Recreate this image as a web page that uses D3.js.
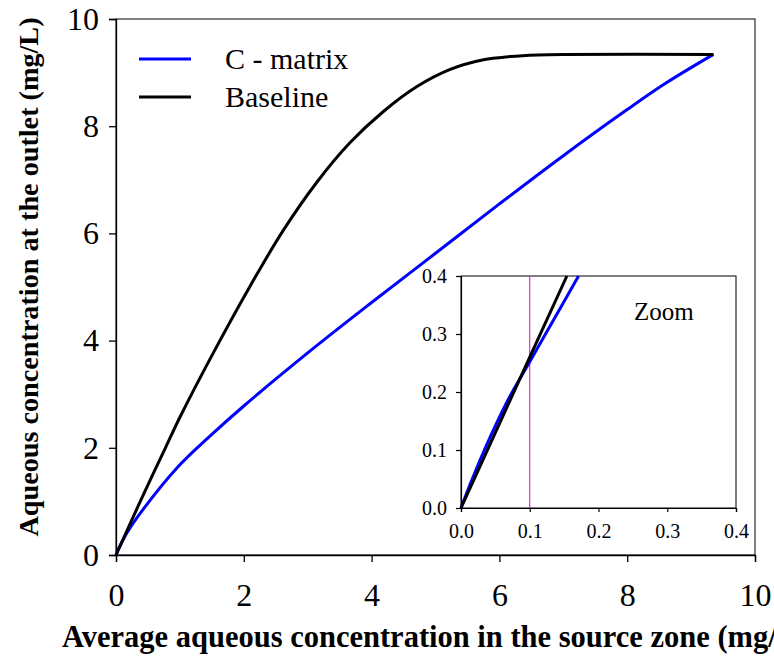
<!DOCTYPE html>
<html>
<head>
<meta charset="utf-8">
<script src="https://cdn.jsdelivr.net/npm/d3@7"></script>
<style>
  html, body { margin: 0; padding: 0; background: #fff; }
  svg { display: block; }
</style>
</head>
<body>
<svg id="chart" width="774" height="657"></svg>
<script>
// ---- data ----
const seriesNames = ["C - matrix", "Baseline"];
const seriesColors = ["#0000ff", "#000000"];

const cMatrixX = [0, 0.05, 0.17, 0.43, 0.95, 1.5, 2.0, 3.0, 4.0, 5.0, 6.0, 7.0, 8.0, 8.6, 9.35];
const cMatrixY = [0, 0.14, 0.41, 0.86, 1.62, 2.25, 2.78, 3.77, 4.71, 5.63, 6.55, 7.45, 8.31, 8.8, 9.34];

const baselineX = [0, 0.25, 0.5, 0.77, 1.0, 1.5, 2.1, 2.62, 3.14, 3.66, 4.18, 4.71, 5.23, 5.75, 6.17, 6.6, 7.0, 9.35];
const baselineY = [0, 0.66, 1.31, 1.99, 2.57, 3.72, 5.02, 6.06, 6.95, 7.69, 8.27, 8.74, 9.06, 9.24, 9.30, 9.33, 9.34, 9.34];

// inset (zoom) data
const zoomCMatrixX = [0, 0.015, 0.034, 0.07, 0.1, 0.135, 0.171];
const zoomCMatrixY = [0, 0.046, 0.1, 0.19, 0.252, 0.325, 0.4];
const zoomBaselineX = [0, 0.05, 0.1, 0.154];
const zoomBaselineY = [0, 0.13, 0.26, 0.4];
const zoomMarkerX = 0.1;

const mainTicks = [0, 2, 4, 6, 8, 10];
const zoomTicks = [0, 0.1, 0.2, 0.3, 0.4];

const xTitle = "Average aqueous concentration in the source zone (mg/L)";
const yTitle = "Aqueous concentration at the outlet (mg/L)";
const zoomLabel = "Zoom";

// ---- drawing ----
const FONT = '"Liberation Serif", "Times New Roman", Times, serif';
const svg = d3.select("#chart");
const zip = (xs, ys) => xs.map((x, i) => [x, ys[i]]);

const M = { left: 116, right: 755, top: 19, bottom: 555 };
const x = d3.scaleLinear().domain([0, 10]).range([M.left, M.right]);
const y = d3.scaleLinear().domain([0, 10]).range([M.bottom, M.top]);

// frame
svg.append("rect").attr("x", M.left).attr("y", M.top)
  .attr("width", M.right - M.left).attr("height", M.bottom - M.top)
  .attr("fill", "none").attr("stroke", "#000").attr("stroke-width", 1);

const xAxis = svg.append("g").attr("transform", `translate(0,${M.bottom})`)
  .call(d3.axisBottom(x).tickValues(mainTicks).tickSize(7).tickPadding(21).tickFormat(d3.format("d")));
const yAxis = svg.append("g").attr("transform", `translate(${M.left},0)`)
  .call(d3.axisLeft(y).tickValues(mainTicks).tickSize(7).tickPadding(10).tickFormat(d3.format("d")));
[xAxis, yAxis].forEach(a => {
  a.attr("font-family", null).attr("font-size", null);
  a.select(".domain").attr("stroke", "#000").attr("stroke-width", 1.3);
  a.selectAll(".tick line").attr("stroke", "#000").attr("stroke-width", 1.3);
  a.selectAll(".tick text").style("font-family", FONT).style("font-size", "32px").attr("fill", "#000");
});

const line = d3.line().x(d => x(d[0])).y(d => y(d[1])).curve(d3.curveCatmullRom.alpha(0.5));

svg.append("path").datum(zip(cMatrixX, cMatrixY))
  .attr("d", line).attr("fill", "none").attr("stroke", seriesColors[0]).attr("stroke-width", 3);
svg.append("path").datum(zip(baselineX, baselineY))
  .attr("d", line).attr("fill", "none").attr("stroke", seriesColors[1]).attr("stroke-width", 3);

// legend
const legend = svg.append("g");
seriesNames.forEach((name, i) => {
  const ly = 59 + i * 38;
  legend.append("line").attr("x1", 139).attr("x2", 191).attr("y1", ly).attr("y2", ly)
    .attr("stroke", seriesColors[i]).attr("stroke-width", 3);
  legend.append("text").attr("x", 225).attr("y", ly + 10)
    .style("font-family", FONT).style("font-size", "30px").attr("fill", "#000").text(name);
});

// axis titles
svg.append("text").attr("x", 62).attr("y", 647)
  .attr("text-anchor", "start").style("font-family", FONT).style("font-weight", "bold")
  .style("font-size", "30.5px").attr("fill", "#000").text(xTitle);
svg.append("text").attr("transform", `translate(38,277) rotate(-90)`)
  .attr("text-anchor", "middle").style("font-family", FONT).style("font-weight", "bold")
  .style("font-size", "28.2px").attr("fill", "#000").text(yTitle);

// ---- inset ----
const I = { left: 461, right: 736, top: 276, bottom: 508 };
const xi = d3.scaleLinear().domain([0, 0.4]).range([I.left, I.right]);
const yi = d3.scaleLinear().domain([0, 0.4]).range([I.bottom, I.top]);

svg.append("rect").attr("x", I.left).attr("y", I.top)
  .attr("width", I.right - I.left).attr("height", I.bottom - I.top)
  .attr("fill", "#fff").attr("stroke", "#000").attr("stroke-width", 1);

const xiAxis = svg.append("g").attr("transform", `translate(0,${I.bottom})`)
  .call(d3.axisBottom(xi).tickValues(zoomTicks).tickSize(4).tickPadding(12).tickFormat(d3.format(".1f")));
const yiAxis = svg.append("g").attr("transform", `translate(${I.left},0)`)
  .call(d3.axisLeft(yi).tickValues(zoomTicks).tickSize(5).tickPadding(9).tickFormat(d3.format(".1f")));
[xiAxis, yiAxis].forEach(a => {
  a.attr("font-family", null).attr("font-size", null);
  a.select(".domain").attr("stroke", "#000").attr("stroke-width", 1.2);
  a.selectAll(".tick line").attr("stroke", "#000").attr("stroke-width", 1.2);
  a.selectAll(".tick text").style("font-family", FONT).style("font-size", "20px").attr("fill", "#000");
});

svg.append("line").attr("x1", xi(zoomMarkerX)).attr("x2", xi(zoomMarkerX))
  .attr("y1", yi(0)).attr("y2", yi(0.4)).attr("stroke", "#e000e0").attr("stroke-width", 1);

const linei = d3.line().x(d => xi(d[0])).y(d => yi(d[1])).curve(d3.curveCatmullRom.alpha(0.5));
svg.append("path").datum(zip(zoomCMatrixX, zoomCMatrixY))
  .attr("d", linei).attr("fill", "none").attr("stroke", seriesColors[0]).attr("stroke-width", 3);
svg.append("path").datum(zip(zoomBaselineX, zoomBaselineY))
  .attr("d", linei).attr("fill", "none").attr("stroke", seriesColors[1]).attr("stroke-width", 3);

svg.append("text").attr("x", 634).attr("y", 320)
  .style("font-family", FONT).style("font-size", "25px").attr("fill", "#000").text(zoomLabel);
</script>
</body>
</html>
